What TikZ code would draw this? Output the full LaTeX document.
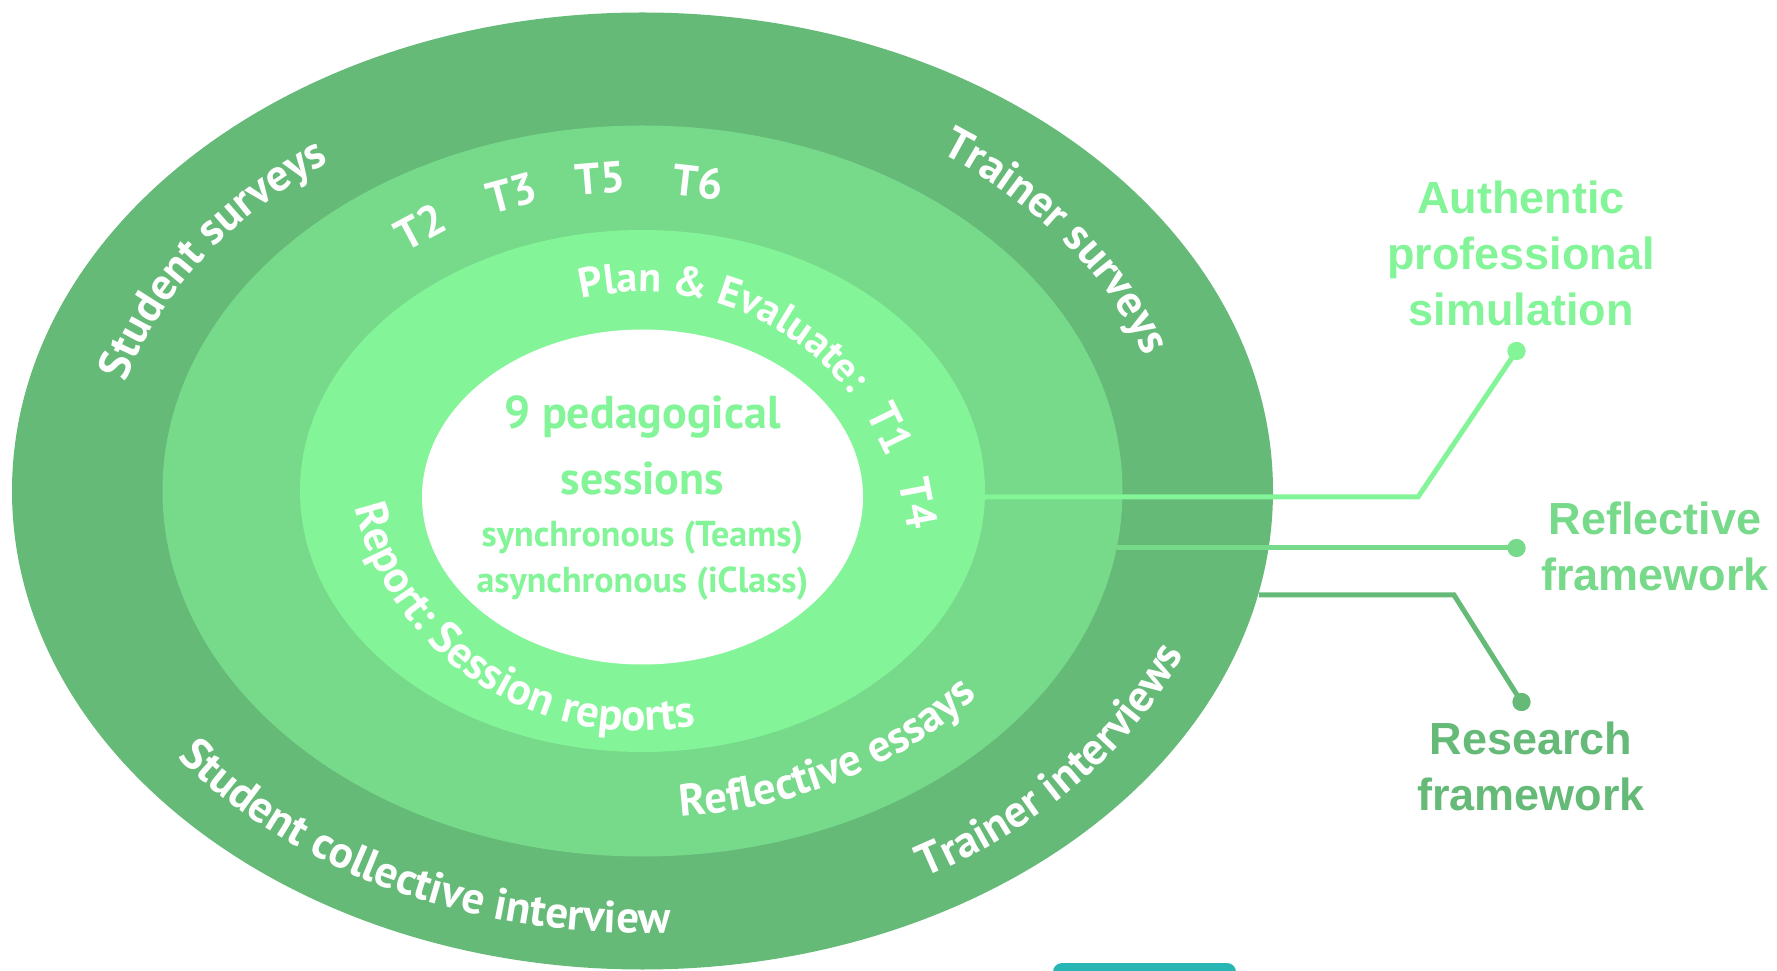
\documentclass[tikz,border=0pt]{standalone}
\usepackage{fontspec}
\usetikzlibrary{decorations.text}
\newfontfamily\dinfont{PT Sans}
\newfontfamily\labfont{Liberation Sans}
\definecolor{dkg}{HTML}{65BA78}
\definecolor{mdg}{HTML}{77D98A}
\definecolor{ltg}{HTML}{83F598}
\definecolor{tealc}{HTML}{27B6B3}
\newcommand\ringfont{\dinfont\bfseries\fontsize{45}{54}\selectfont}
\newcommand\planfont{\dinfont\bfseries\fontsize{42}{50}\selectfont}
\newcommand\tfont{\dinfont\bfseries\fontsize{44}{52}\selectfont}
\tikzset{
  ringtext/.style={decorate, decoration={text along path, text={|\ringfont|#1}, text color=white, text align=left}},
  plantext/.style={decorate, decoration={text along path, text={|\planfont|#1}, text color=white, text align=left}},
  tlab/.style={font=\tfont, text=white, inner sep=0pt},
  lab/.style={font=\labfont\bfseries\fontsize{45}{56}\selectfont, align=center, inner sep=0pt, anchor=base},
  conn/.style={line width=5pt},
  dotnode/.style={circle, inner sep=0pt, minimum size=18pt},
}
\begin{document}
\begin{tikzpicture}[x=1pt,y=1pt]
\useasboundingbox (0,0) rectangle (1777,970);
% rings
\fill[dkg] (642.5,479) ellipse [x radius=630.5pt, y radius=478.5pt];
\fill[mdg] (642.5,479) ellipse [x radius=480pt, y radius=365.5pt];
\fill[ltg] (642.5,479) ellipse [x radius=342.5pt, y radius=261pt];
\fill[white] (642.5,473) ellipse [x radius=220.5pt, y radius=167.5pt];
% bottom tab
\fill[tealc, rounded corners=9pt] (1053,-30) rectangle (1236,7);
% outer ring texts
\begin{scope}[shift={(642.5,479)}]
\path[ringtext={Student surveys}] (164.5:536pt and 405pt) arc[start angle=164.5, end angle=80, x radius=536pt, y radius=405pt];
\path[ringtext={Trainer surveys}] (56:532pt and 408pt) arc[start angle=56, end angle=-20, x radius=532pt, y radius=408pt];
\path[ringtext={Student collective interview}] (217:582pt and 442pt) arc[start angle=217, end angle=300, x radius=582pt, y radius=442pt];
\path[ringtext={Trainer interviews}] (299:582pt and 442pt) arc[start angle=299, end angle=370, x radius=582pt, y radius=442pt];
\path[ringtext={Reflective essays}] (275:430pt and 327pt) arc[start angle=275, end angle=345, x radius=430pt, y radius=327pt];
\end{scope}
\path[plantext={Plan {\&} Evaluate:}] ([shift={(642.5,417)}]103.5:261pt) arc[start angle=103.5, end angle=30, radius=261pt];
\path[ringtext={Report: Session reports}] ([shift={(638,530.6)}]193.4:291.5pt) arc[start angle=193.4, end angle=300, radius=291.5pt];
% T labels
\node[tlab, rotate=28] (t2) at (420,743) {T2};
\node[tlab, rotate=15] (t3) at (512,777) {T3};
\node[tlab, rotate=4.6] (t5) at (600,792) {T5};
\node[tlab, rotate=-6.5] (t6) at (698,788) {T6};
\node[tlab, rotate=-64] (t1) at (890.7,541.7) {T1};
\node[tlab, rotate=-79] (t4) at (918.3,466.7) {T4};
% centre text
\node[font=\dinfont\bfseries\fontsize{46}{66}\selectfont, text=ltg, align=center, inner sep=0pt, anchor=base] (core) at (642.5,475) {9 pedagogical\\sessions};
\node[font=\dinfont\bfseries\fontsize{36}{47}\selectfont, text=ltg, align=center, inner sep=0pt, anchor=base] (modes) at (642.5,377) {synchronous (Teams)\\asynchronous (iClass)};
% connector anchors on ring edges
\coordinate (sA) at (985,473);
\coordinate (cA) at (1418,473);
\coordinate (sB) at (1117,422);
\coordinate (sC) at (1259,375);
\coordinate (cC) at (1454,375);
\node[dotnode, fill=ltg] (dA) at (1516.5,619) {};
\node[dotnode, fill=mdg] (dB) at (1516.5,422) {};
\node[dotnode, fill=dkg] (dC) at (1521.5,268) {};
\draw[conn, ltg] (sA) -- (cA) -- (dA.center);
\draw[conn, mdg] (sB) -- (dB.center);
\draw[conn, dkg] (sC) -- (cC) -- (dC.center);
\node[dotnode, fill=ltg] at (dA) {};
\node[dotnode, fill=mdg] at (dB) {};
\node[dotnode, fill=dkg] at (dC) {};
% labels
\node[lab, text=ltg] (auth) at (1521,644) {Authentic\\professional\\simulation};
\node[lab, text=mdg] (refl) at (1655,379) {Reflective\\framework};
\node[lab, text=dkg] (res) at (1531,160) {Research\\framework};
\end{tikzpicture}
\end{document}
